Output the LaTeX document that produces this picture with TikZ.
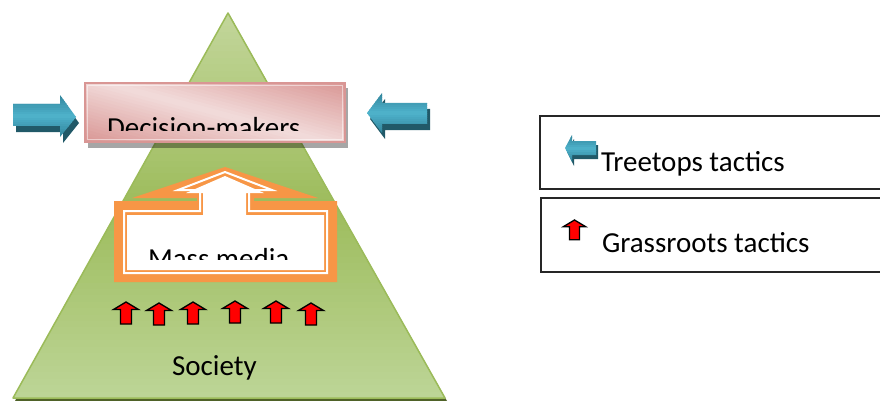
\documentclass[tikz,border=0pt]{standalone}
\usepackage{fontspec}
\setmainfont{Carlito}
\definecolor{tealL}{HTML}{4FB3CC}
\definecolor{tealM}{HTML}{31849B}
\definecolor{tealD}{HTML}{215968}
\definecolor{pinkL}{HTML}{F2DCDB}
\definecolor{pinkD}{HTML}{D99694}
\definecolor{orangeA}{HTML}{F79646}
\definecolor{greenE}{HTML}{9BBB59}
\definecolor{greenL}{HTML}{C3D69B}
\definecolor{greenB}{HTML}{BDD597}
\definecolor{greenM}{HTML}{9DBC5C}
\definecolor{greenS}{HTML}{4F6228}
% vertical three-colour gradient made of strips: x0,y0,x1,y1,A,B,C,N
\newcommand\myvgrad[8]{%
 \foreach \kk in {1,...,#8}{%
   \pgfmathsetmacro\gyA{#2+((\kk-1)/#8)*(#4-#2)}%
   \pgfmathsetmacro\gyB{#2+(\kk/#8)*(#4-#2)+0.6}%
   \pgfmathsetmacro\gP{2*(\kk-0.5)/#8}%
   \ifdim\gP pt<1pt
     \pgfmathsetmacro\gQ{100*\gP}%
     \fill[#6!\gQ!#5] (#1,\gyA) rectangle (#3,\gyB);
   \else
     \pgfmathsetmacro\gQ{100*(\gP-1)}%
     \fill[#7!\gQ!#6] (#1,\gyA) rectangle (#3,\gyB);
   \fi}}
\begin{document}
\begin{tikzpicture}[x=1pt,y=-1pt,
  lbl/.style={inner sep=0pt,outer sep=0pt,anchor=base west,font=\fontsize{29}{35}\selectfont,text=black},
  redup/.pic={\draw[black,line width=1.3pt,fill=red,line join=miter]
     (0,0) -- (12.5,7.5) -- (5.5,7.5) -- (5.5,22) -- (-5.5,22) -- (-5.5,7.5) -- (-12.5,7.5) -- cycle;},
  tealside/.style={fill=tealD},
  legline/.style={line width=1.8pt,draw=black!85}]
\useasboundingbox (0,0) rectangle (880,401);

% pyramid
\fill[greenS] (230,16) -- (447,401) -- (15,401) -- cycle;
\begin{scope}
  \clip (228,13) -- (445,398) -- (13,398) -- cycle;
  \myvgrad{10}{13}{450}{398}{greenL}{greenM}{greenB}{60}
\end{scope}
\draw[greenE,line width=1.5pt,line join=round] (228,13) -- (445,398) -- (13,398) -- cycle;

% decision-makers box
\fill[black,opacity=0.35] (88,88) rectangle (348,148);
\begin{scope}
  \clip (85,83) rectangle (345,142);
  \begin{scope}[rotate around={-15:(215,112.5)}]
    \myvgrad{30}{50}{400}{175}{pinkD}{pinkL}{pinkD}{40}
  \end{scope}
\end{scope}
\draw[pinkD,line width=1.5pt] (85,83) rectangle (345,142);
\draw[white,opacity=0.5,line width=0.6pt] (87.5,85.5) rectangle (342.5,139.5);
\begin{scope}
  \clip (85,83) rectangle (345,130.5);
  \node[lbl] (dm) at (107,137) {Decision-makers};
\end{scope}

% blue arrows
\fill[tealside,shift={(3,6)}] (13,104) -- (60,104) -- (60,95) -- (76,117) -- (60,137) -- (60,126) -- (13,126) -- cycle;
\begin{scope}
  \clip (13,104) -- (60,104) -- (60,95) -- (76,117) -- (60,137) -- (60,126) -- (13,126) -- cycle;
  \myvgrad{10}{95}{80}{137}{tealM}{tealL}{tealM}{20}
\end{scope}
\fill[tealside,shift={(3,6)}] (367,113) -- (382,93) -- (382,103) -- (427,103) -- (427,124) -- (382,124) -- (382,133) -- cycle;
\begin{scope}
  \clip (367,113) -- (382,93) -- (382,103) -- (427,103) -- (427,124) -- (382,124) -- (382,133) -- cycle;
  \myvgrad{364}{93}{430}{133}{tealM}{tealL}{tealM}{20}
\end{scope}

% mass media callout
\fill[orangeA] (114,282) -- (114,201) -- (197,201) -- (197,198) -- (132,198) -- (225,167) -- (318,198) -- (254,198) -- (254,201) -- (337,201) -- (337,282) -- cycle;
\draw[white,line width=2pt,line join=miter] (124,273) -- (124,211) -- (200,211) -- (200,190) -- (178,190) -- (225,172) -- (272,190) -- (249,190) -- (249,211) -- (327,211) -- (327,273) -- cycle;
\fill[white] (127,270) -- (127,215) -- (203,215) -- (203,193) -- (186,193) -- (225,176) -- (264,193) -- (246,193) -- (246,215) -- (324,215) -- (324,270) -- cycle;
\begin{scope}
  \clip (127,215) rectangle (324,259.5);
  \node[lbl] (mm) at (148,268) {Mass media};
\end{scope}

% red arrows
\pic at (126,302) {redup};
\pic at (159,303) {redup};
\pic at (193,302) {redup};
\pic at (235,301) {redup};
\pic at (276,301) {redup};
\pic at (311,303) {redup};

\node[lbl] (soc) at (172,375) {Society};

% legend
\draw[legline] (882,116) -- (540,116) -- (540,189) -- (882,189);
\draw[legline] (882,198) -- (541,198) -- (541,272) -- (882,272);
\fill[tealside,shift={(2,4)}] (565,148) -- (572,135) -- (572,141) -- (596,141) -- (596,155) -- (572,155) -- (572,162) -- cycle;
\begin{scope}
  \clip (565,148) -- (572,135) -- (572,141) -- (596,141) -- (596,155) -- (572,155) -- (572,162) -- cycle;
  \myvgrad{563}{135}{598}{162}{tealM}{tealL}{tealM}{14}
\end{scope}
\node[lbl] (tt) at (601,171) {Treetops tactics};
\pic[scale=0.9] at (574.5,220) {redup};
\node[lbl] (gt) at (602,252) {Grassroots tactics};
\end{tikzpicture}
\end{document}
